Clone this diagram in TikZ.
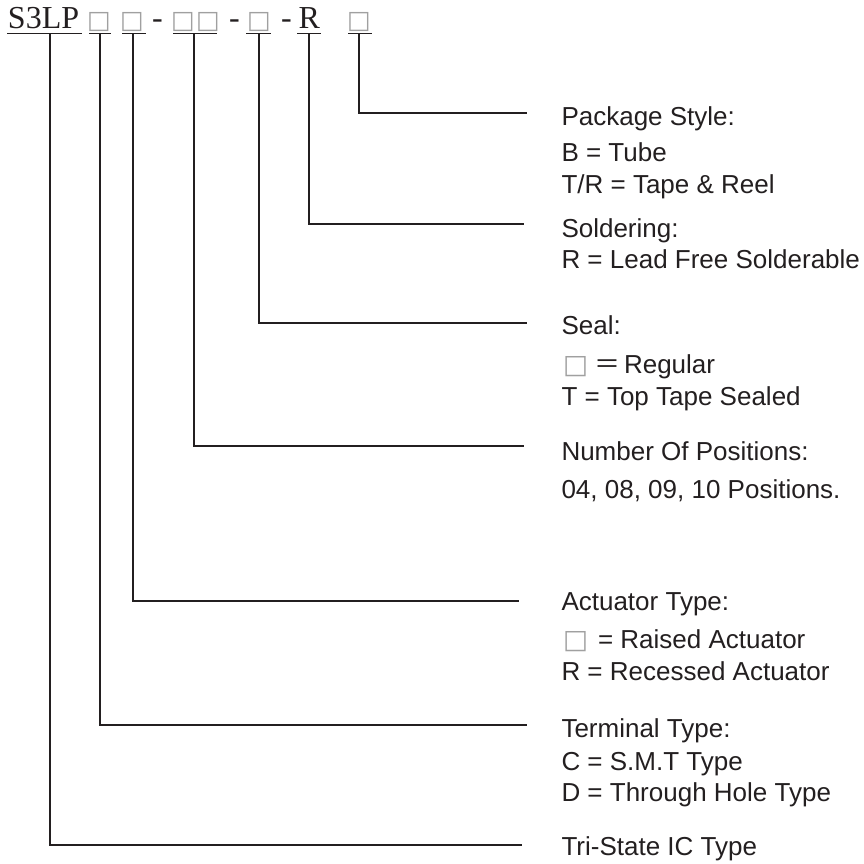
\documentclass[tikz,border=0pt]{standalone}
\usepackage{fontspec}
\setmainfont{Liberation Sans}
\newfontfamily\hdrfont{Liberation Serif}
\newfontfamily\symfont{DejaVu Sans}
\newfontfamily\cjkfont{Noto Sans CJK SC}
\definecolor{ink}{HTML}{231F20}
\definecolor{boxgray}{HTML}{A0A0A0}
\newcommand{\grbox}{{\symfont\fontsize{26.5}{31}\selectfont\color{boxgray}□}}
\begin{document}
\begin{tikzpicture}[x=1pt,y=-1pt,
  lbl/.style={anchor=base west, inner sep=0pt, outer sep=0pt, text=ink, font=\fontsize{26}{31}\selectfont},
  hdr/.style={anchor=base west, inner sep=0pt, outer sep=0pt, text=ink, font=\hdrfont\fontsize{32}{38}\selectfont},
  hbox/.style={anchor=base, inner sep=0pt, outer sep=0pt, text=boxgray, font=\symfont\fontsize{25}{30}\selectfont},
  conn/.style={draw=ink, line width=1.8pt},
  uline/.style={draw=ink, line width=1.3pt}]
\useasboundingbox (0,0) rectangle (864,863);
% header
\node[hdr] (s3lp) at (8,28.3) {S3LP};
\node[hbox] (b1) at (99,28.3) {□};
\node[hbox] (b2) at (132,28.3) {□};
\node[hdr,anchor=base] (d1) at (157.5,28.3) {-};
\node[hbox] (b3) at (183,28.3) {□};
\node[hbox] (b4) at (208,28.3) {□};
\node[hdr,anchor=base] (d2) at (234.5,28.3) {-};
\node[hbox] (b5) at (259,28.3) {□};
\node[hdr,anchor=base] (d3) at (286.5,28.3) {-};
\node[hdr] (rr) at (298.5,28.3) {R};
\node[hbox] (b6) at (359,28.3) {□};
% underlines
\foreach \a/\b in {7/82, 89/111, 122/146, 173/217, 246/271, 297/321, 348/372}
  \draw[uline] (\a,33.5) -- (\b,33.5);
% connector start points
\coordinate (v1) at (50,33.5);
\coordinate (v2) at (100,33.5);
\coordinate (v3) at (133.3,33.5);
\coordinate (v4) at (194.3,33.5);
\coordinate (v5) at (259,33.5);
\coordinate (v6) at (309,33.5);
\coordinate (v7) at (359,33.5);
% connector ends
\coordinate (e1) at (522,845);
\coordinate (e2) at (527,725);
\coordinate (e3) at (519,600.7);
\coordinate (e4) at (524,445.7);
\coordinate (e5) at (527,322.7);
\coordinate (e6) at (524,224);
\coordinate (e7) at (527,113.3);
\foreach \i in {1,...,7} \draw[conn] (v\i) |- (e\i);
% labels
\node[lbl] (p1) at (561.5,125) {Package Style:};
\node[lbl] (p2) at (561.5,161.7) {B = Tube};
\node[lbl] (p3) at (561.5,193) {T/R = Tape \& Reel};
\node[lbl] (s1) at (561.5,237) {Soldering:};
\node[lbl] (s2) at (561.5,268) {R = Lead Free Solderable};
\node[lbl] (l1) at (561.5,334) {Seal:};
\node[lbl] (l2) at (563,373) {\grbox\hspace{6pt}{\cjkfont ＝}\hspace{4pt}Regular};
\node[lbl] (l3) at (561.5,405) {T = Top Tape Sealed};
\node[lbl] (n1) at (561.5,460.7) {Number Of Positions:};
\node[lbl] (n2) at (561.5,498) {04, 08, 09, 10 Positions.};
\node[lbl] (a1) at (561.5,610) {Actuator Type:};
\node[lbl] (a2) at (563,648) {\grbox\hspace{10pt}= Raised Actuator};
\node[lbl] (a3) at (561.5,680) {R = Recessed Actuator};
\node[lbl] (t1) at (561.5,737) {Terminal Type:};
\node[lbl] (t2) at (561.5,770) {C = S.M.T Type};
\node[lbl] (t3) at (561.5,801.7) {D = Through Hole Type};
\node[lbl] (i1) at (561.5,855) {Tri-State IC Type};
\end{tikzpicture}
\end{document}
